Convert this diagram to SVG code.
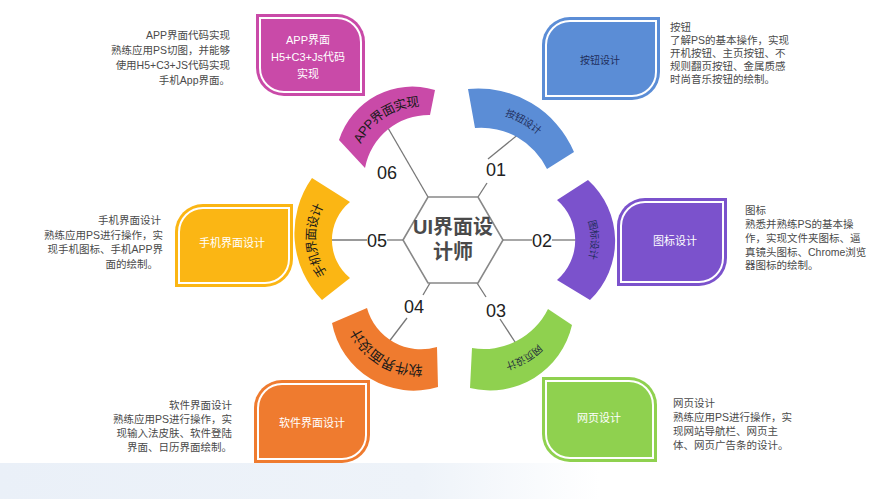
<svg xmlns="http://www.w3.org/2000/svg" width="869" height="499" viewBox="0 0 869 499">
<style>
text{font-family:"Liberation Sans","Noto Sans CJK SC",sans-serif}
.desc{font-size:10.5px;fill:#4a4a4a}
.num{font-size:18px;fill:#222;text-anchor:middle}
.lbl{font-size:11px;fill:#fff;text-anchor:middle}
.arct{dominant-baseline:central;text-anchor:middle}
.conn{stroke:#777;stroke-width:1.3;fill:none}
.inb{fill:none;stroke:#fff;stroke-width:2}
.ctr{font-size:20px;fill:#4a4a4a;text-anchor:middle;font-weight:bold}
</style>
<defs>
<linearGradient id="bg" x1="0" y1="0" x2="1" y2="0">
<stop offset="0" stop-color="#eaf0f8"/>
<stop offset="0.7" stop-color="#eef3f9"/>
<stop offset="1" stop-color="#ffffff"/>
</linearGradient>
<path id="mp1" d="M471.5,108.5 A88,88 0 0 1 560.5,160.5"/>
<path id="mp2" d="M572.5,190 A67.5,67.5 0 0 1 573.5,290"/>
<path id="mp3" d="M560,317 A78,78 0 0 1 471,368"/>
<path id="mp4" d="M437.5,367 A69.5,69.5 0 0 1 349.5,315.5"/>
<path id="mp5" d="M336,289 A67,67 0 0 1 331,190"/>
<path id="mp6" d="M352,154 A71,71 0 0 1 432.5,102.5"/>
</defs>
<rect x="0" y="0" width="869" height="499" fill="#fff"/>
<rect x="0" y="463" width="600" height="36" fill="url(#bg)"/>

<g id="connectors">
<line class="conn" x1="428" y1="197" x2="388" y2="128"/>
<line class="conn" x1="478" y1="197" x2="487" y2="183"/>
<line class="conn" x1="488" y1="159" x2="520" y2="133"/>
<line class="conn" x1="503" y1="240" x2="532" y2="240"/>
<line class="conn" x1="552" y1="240" x2="580" y2="240"/>
<line class="conn" x1="477" y1="283" x2="486" y2="297"/>
<line class="conn" x1="500" y1="319" x2="517" y2="345"/>
<line class="conn" x1="430" y1="283" x2="423" y2="295"/>
<line class="conn" x1="407" y1="318" x2="388" y2="343"/>
<line class="conn" x1="328" y1="240" x2="367" y2="240"/>
<line class="conn" x1="387" y1="240" x2="403" y2="240"/>
</g>

<g id="center">
<polygon points="403,240 428,197 478,197 503,240 478,283 428,283" fill="#fff" stroke="#888" stroke-width="1.6"/>
<text class="ctr" x="453" y="234">UI界面设</text>
<text class="ctr" x="453" y="259">计师</text>
</g>

<g id="numbers">
<text class="num" x="387" y="178.5">06</text>
<text class="num" x="496" y="175.5">01</text>
<text class="num" x="542" y="246.5">02</text>
<text class="num" x="496" y="316.5">03</text>
<text class="num" x="414" y="312.5">04</text>
<text class="num" x="377" y="246.5">05</text>
</g>

<g id="node01">
<path d="M468,89 A104,104 0 0 1 574,152 L547,169 A73,73 0 0 0 475,128 Z" fill="#5b8dd6"/>
<text class="arct" font-size="10" fill="#1f2d5c"><textPath href="#mp1" startOffset="50%">按钮设计</textPath></text>
<path d="M570,17 H660 V72 A28,28 0 0 1 632,100 H542 V45 A28,28 0 0 1 570,17 Z" fill="#5b8dd6"/>
<path d="M570,21 H656 V72 A24,24 0 0 1 632,96 H546 V45 A24,24 0 0 1 570,21 Z" class="inb"/>
<text x="600" y="63.5" font-size="10" fill="#1f2d5c" text-anchor="middle">按钮设计</text>
<text class="desc" x="670" y="31">按钮</text>
<text class="desc" x="670" y="44">了解PS的基本操作，实现</text>
<text class="desc" x="670" y="57">开机按钮、主页按钮、不</text>
<text class="desc" x="670" y="70">规则翻页按钮、金属质感</text>
<text class="desc" x="670" y="83">时尚音乐按钮的绘制。</text>
</g>

<g id="node02">
<path d="M588,180 A82,82 0 0 1 590,300 L557,280 A53,53 0 0 0 557,200 Z" fill="#7b52cc"/>
<text class="arct" font-size="10" fill="#1f2d5c"><textPath href="#mp2" startOffset="50%">图标设计</textPath></text>
<path d="M645,198 H727 V258 A28,28 0 0 1 699,286 H617 V226 A28,28 0 0 1 645,198 Z" fill="#7b52cc"/>
<path d="M645,202 H723 V258 A24,24 0 0 1 699,282 H621 V226 A24,24 0 0 1 645,202 Z" class="inb"/>
<text class="lbl" x="675" y="245">图标设计</text>
<text class="desc" x="745" y="214">图标</text>
<text class="desc" x="745" y="228">熟悉并熟练PS的基本操</text>
<text class="desc" x="745" y="242">作，实现文件夹图标、逼</text>
<text class="desc" x="745" y="256">真镜头图标、Chrome浏览</text>
<text class="desc" x="745" y="269">器图标的绘制。</text>
</g>

<g id="node03">
<path d="M572,325 A84,84 0 0 1 470,388 L472,348 A71.5,71.5 0 0 0 548,309 Z" fill="#8fd14f"/>
<text class="arct" font-size="10" fill="#1f2d3c"><textPath href="#mp3" startOffset="50%">网页设计</textPath></text>
<path d="M542,377 H629 A28,28 0 0 1 657,405 V462 H570 A28,28 0 0 1 542,434 Z" fill="#8fd14f"/>
<path d="M546,381 H629 A24,24 0 0 1 653,405 V458 H570 A24,24 0 0 1 546,434 Z" class="inb"/>
<text class="lbl" x="599" y="422">网页设计</text>
<text class="desc" x="673" y="407">网页设计</text>
<text class="desc" x="673" y="421">熟练应用PS进行操作，实</text>
<text class="desc" x="673" y="435">现网站导航栏、网页主</text>
<text class="desc" x="673" y="449">体、网页广告条的设计。</text>
</g>

<g id="node04">
<path d="M438,387 A83,83 0 0 1 332,323 L367,308 A56,56 0 0 0 437,347 Z" fill="#ef7b2f"/>
<text class="arct" font-size="14" fill="#1a1a1a"><textPath href="#mp4" startOffset="50%">软件界面设计</textPath></text>
<path d="M282,380 H370 V435 A28,28 0 0 1 342,463 H254 V408 A28,28 0 0 1 282,380 Z" fill="#ef7b2f"/>
<path d="M282,384 H366 V435 A24,24 0 0 1 342,459 H258 V408 A24,24 0 0 1 282,384 Z" class="inb"/>
<text class="lbl" x="312" y="427">软件界面设计</text>
<text class="desc" x="232" y="409" text-anchor="end">软件界面设计</text>
<text class="desc" x="232" y="423" text-anchor="end">熟练应用PS进行操作，实</text>
<text class="desc" x="232" y="437" text-anchor="end">现输入法皮肤、软件登陆</text>
<text class="desc" x="232" y="451" text-anchor="end">界面、日历界面绘制。</text>
</g>

<g id="node05">
<path d="M322,300 A95,95 0 0 1 312,178 L350,202 A49,49 0 0 0 350,278 Z" fill="#fbb614"/>
<text class="arct" font-size="12.5" fill="#1a1a1a"><textPath href="#mp5" startOffset="50%">手机界面设计</textPath></text>
<path d="M203,204 H293 V259 A28,28 0 0 1 265,287 H175 V232 A28,28 0 0 1 203,204 Z" fill="#fbb614"/>
<path d="M203,208 H289 V259 A24,24 0 0 1 265,283 H179 V232 A24,24 0 0 1 203,208 Z" class="inb"/>
<text class="lbl" x="232" y="247">手机界面设计</text>
<text class="desc" x="161" y="224" text-anchor="end">手机界面设计</text>
<text class="desc" x="163" y="239" text-anchor="end">熟练应用PS进行操作，实</text>
<text class="desc" x="163" y="253" text-anchor="end">现手机图标、手机APP界</text>
<text class="desc" x="158" y="268" text-anchor="end">面的绘制。</text>
</g>

<g id="node06">
<path d="M339,140 A77,77 0 0 1 435,90 L430,115 A65,65 0 0 0 365,168 Z" fill="#c94aa8"/>
<text class="arct" font-size="13" fill="#1a1a1a"><textPath href="#mp6" startOffset="50%">APP界面实现</textPath></text>
<path d="M256,14 H337 A28,28 0 0 1 365,42 V96 H284 A28,28 0 0 1 256,68 Z" fill="#c94aa8"/>
<path d="M260,18 H337 A24,24 0 0 1 361,42 V92 H284 A24,24 0 0 1 260,68 Z" class="inb"/>
<text class="lbl" x="308" y="44">APP界面</text>
<text class="lbl" x="308" y="61">H5+C3+Js代码</text>
<text class="lbl" x="308" y="78">实现</text>
<text class="desc" x="230" y="39" text-anchor="end">APP界面代码实现</text>
<text class="desc" x="230" y="54" text-anchor="end">熟练应用PS切图，并能够</text>
<text class="desc" x="230" y="69" text-anchor="end">使用H5+C3+JS代码实现</text>
<text class="desc" x="230" y="84" text-anchor="end">手机App界面。</text>
</g>
</svg>
